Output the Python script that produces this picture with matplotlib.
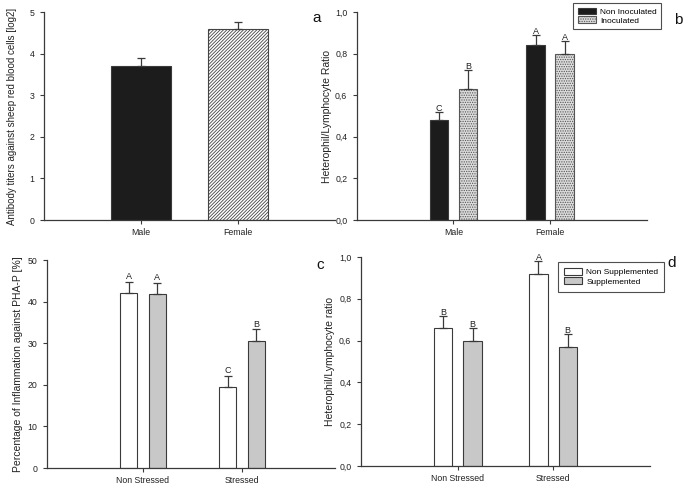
import matplotlib
matplotlib.use("Agg")
import matplotlib.pyplot as plt
from matplotlib.patches import Patch
import numpy as np

plt.rcParams['font.family'] = ['Liberation Sans', 'DejaVu Sans']
plt.rcParams['hatch.linewidth'] = 0.6

# Panel a
a_cats = ["Male", "Female"]
a_vals = [3.7, 4.6]
a_err = [0.2, 0.15]
a_ylabel = "Antibody titers against sheep red blood cells [log2]"

# Panel b
b_cats = ["Male", "Female"]
b_series = ["Non Inoculated", "Inoculated"]
b_non = [0.48, 0.84]
b_inoc = [0.63, 0.80]
b_non_err = [0.04, 0.05]
b_inoc_err = [0.09, 0.06]
b_non_lett = ["C", "A"]
b_inoc_lett = ["B", "A"]
b_ylabel = "Heterophil/Lymphocyte Ratio"

# Panel c
c_cats = ["Non Stressed", "Stressed"]
c_non = [42.0, 19.5]
c_sup = [41.8, 30.6]
c_non_err = [2.7, 2.7]
c_sup_err = [2.7, 2.7]
c_non_lett = ["A", "C"]
c_sup_lett = ["A", "B"]
c_ylabel = "Percentage of Inflammation against PHA-P [%]"

# Panel d
d_cats = ["Non Stressed", "Stressed"]
d_series = ["Non Supplemented", "Supplemented"]
d_non = [0.66, 0.92]
d_sup = [0.60, 0.57]
d_non_err = [0.06, 0.06]
d_sup_err = [0.06, 0.06]
d_non_lett = ["B", "A"]
d_sup_lett = ["B", "B"]
d_ylabel = "Heterophil/Lymphocyte ratio"

W, H = 685, 486
fig = plt.figure(figsize=(W / 100, H / 100), dpi=100)

def rect(l, r, t, b):
    return [l / W, (H - b) / H, (r - l) / W, (b - t) / H]

ax_a = fig.add_axes(rect(44, 335, 12, 220))
ax_b = fig.add_axes(rect(357, 647, 12, 220))
ax_c = fig.add_axes(rect(47, 335, 260, 468))
ax_d = fig.add_axes(rect(361, 650, 257, 466))

EC = '#3a3a3a'
FS = 6.3

def style(ax, cats, ylim, yticks, yfmt, xlim):
    for s in ['top', 'right']:
        ax.spines[s].set_visible(False)
    for s in ['left', 'bottom']:
        ax.spines[s].set_color(EC)
        ax.spines[s].set_linewidth(0.9)
    ax.set_xlim(*xlim)
    ax.set_ylim(*ylim)
    ax.set_xticks(np.arange(1, len(cats) + 1))
    ax.set_xticklabels(cats, fontsize=FS, color='#222222')
    ax.set_yticks(yticks)
    ax.set_yticklabels([yfmt(v) for v in yticks], fontsize=FS, color='#222222')
    ax.tick_params(axis='both', direction='out', length=3, width=0.8, color=EC, pad=4)
    ax.tick_params(axis='x', pad=3)

def errs(ax, x, v, e):
    ax.errorbar(x, v, yerr=[np.zeros(len(e)), e], fmt='none', ecolor=EC,
                elinewidth=0.9, capsize=3, capthick=0.9)

def letters(ax, x, v, e, labs, dy):
    for xi, vi, ei, l in zip(x, v, e, labs):
        ax.text(xi, vi + ei + dy, l, ha='center', va='bottom', fontsize=6.5, color='#222222')

comma = lambda v: f"{v:.1f}".replace('.', ',')

# --- a ---
xa = np.arange(1, len(a_cats) + 1)
ax_a.bar(xa[0], a_vals[0], width=0.615, color='#1c1c1c', edgecolor=EC, linewidth=0.8)
ax_a.bar(xa[1], a_vals[1], width=0.615, color='white', edgecolor='#444444', linewidth=0.8,
         hatch='//////////')
errs(ax_a, xa, a_vals, a_err)
style(ax_a, a_cats, (0, 5), np.arange(0, 6, 1), lambda v: f"{v:.0f}", (0, 3.0))
ax_a.set_ylabel(a_ylabel, fontsize=7, color='#222222', labelpad=9)

# --- b ---
xb = np.arange(1, len(b_cats) + 1)
off, bw = 0.15, 0.19
ax_b.bar(xb - off, b_non, width=bw, color='#1c1c1c', edgecolor=EC, linewidth=0.8)
ax_b.bar(xb + off, b_inoc, width=bw, color='#dcdcdc', edgecolor='#555555', linewidth=0.8,
         hatch='.......')
errs(ax_b, xb - off, b_non, b_non_err)
errs(ax_b, xb + off, b_inoc, b_inoc_err)
letters(ax_b, xb - off, b_non, b_non_err, b_non_lett, -0.005)
letters(ax_b, xb + off, b_inoc, b_inoc_err, b_inoc_lett, -0.005)
style(ax_b, b_cats, (0, 1.0), np.arange(0, 1.01, 0.2), comma, (0.005, 3.0))
ax_b.set_ylabel(b_ylabel, fontsize=7.5, color='#222222', labelpad=2)
hb = [Patch(facecolor='#1c1c1c', edgecolor=EC, linewidth=0.8),
      Patch(facecolor='#dcdcdc', edgecolor='#555555', linewidth=0.8, hatch='.......')]
leg = ax_b.legend(hb, b_series, loc='upper left', bbox_to_anchor=(573 / W, 1 - 3 / H),
                  bbox_transform=fig.transFigure, prop={'size': 6}, frameon=True, fancybox=False,
                  handlelength=2.2, handleheight=0.9, handletextpad=0.5, borderpad=0.55,
                  labelspacing=0.05, borderaxespad=0)
leg.get_frame().set_edgecolor('#222222')
leg.get_frame().set_linewidth(0.8)

# --- c ---
xc = np.arange(1, len(c_cats) + 1)
off_c, bw_c = 0.145, 0.177
ax_c.bar(xc - off_c, c_non, width=bw_c, color='white', edgecolor=EC, linewidth=0.8)
ax_c.bar(xc + off_c, c_sup, width=bw_c, color='#c8c8c8', edgecolor=EC, linewidth=0.8)
errs(ax_c, xc - off_c, c_non, c_non_err)
errs(ax_c, xc + off_c, c_sup, c_sup_err)
letters(ax_c, xc - off_c, c_non, c_non_err, c_non_lett, 0.2)
letters(ax_c, xc + off_c, c_sup, c_sup_err, c_sup_lett, 0.2)
style(ax_c, c_cats, (0, 50), np.arange(0, 51, 10), lambda v: f"{v:.0f}", (0.03, 2.94))
ax_c.set_ylabel(c_ylabel, fontsize=7.5, color='#222222', labelpad=3)

# --- d ---
xd = np.arange(1, len(d_cats) + 1)
off_d, bw_d = 0.153, 0.19
ax_d.bar(xd - off_d, d_non, width=bw_d, color='white', edgecolor=EC, linewidth=0.8)
ax_d.bar(xd + off_d, d_sup, width=bw_d, color='#c8c8c8', edgecolor=EC, linewidth=0.8)
errs(ax_d, xd - off_d, d_non, d_non_err)
errs(ax_d, xd + off_d, d_sup, d_sup_err)
letters(ax_d, xd - off_d, d_non, d_non_err, d_non_lett, -0.005)
letters(ax_d, xd + off_d, d_sup, d_sup_err, d_sup_lett, -0.005)
style(ax_d, d_cats, (0, 1.0), np.arange(0, 1.01, 0.2), comma, (-0.02, 3.02))
ax_d.set_ylabel(d_ylabel, fontsize=7.5, color='#222222', labelpad=3)
hd = [Patch(facecolor='white', edgecolor=EC, linewidth=0.8),
      Patch(facecolor='#c8c8c8', edgecolor=EC, linewidth=0.8)]
leg2 = ax_d.legend(hd, d_series, loc='upper left', bbox_to_anchor=(558 / W, 1 - 262 / H),
                   bbox_transform=fig.transFigure, prop={'size': 6}, frameon=True, fancybox=False,
                   handlelength=2.2, handleheight=0.9, handletextpad=0.5, borderpad=0.7,
                   labelspacing=0.15, borderaxespad=0)
leg2.get_frame().set_edgecolor('#222222')
leg2.get_frame().set_linewidth(0.8)

# panel letters
fig.text(317 / W, 1 - 18 / H, "a", fontsize=11, ha='center', va='center', color='#111111')
fig.text(678 / W, 1 - 20 / H, "b", fontsize=11, ha='center', va='center', color='#111111')
fig.text(320 / W, 1 - 265 / H, "c", fontsize=11, ha='center', va='center', color='#111111')
fig.text(672 / W, 1 - 263 / H, "d", fontsize=11, ha='center', va='center', color='#111111')

fig.savefig("out.png", dpi=100, facecolor='white')
